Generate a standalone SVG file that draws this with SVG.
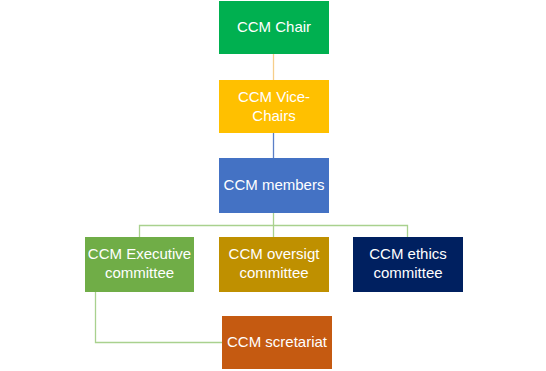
<svg xmlns="http://www.w3.org/2000/svg" width="546" height="371" viewBox="0 0 546 371">
<style>
text{font-family:"Liberation Sans",Arial,sans-serif;font-size:15px;fill:#fff;text-anchor:middle}
.c{fill:none;stroke-width:1.3}
</style>
<rect width="546" height="371" fill="#fff"/>
<g id="connectors">
<line class="c" x1="273.5" y1="54" x2="273.5" y2="80" stroke="#F6CE8A"/>
<line class="c" x1="273.5" y1="133" x2="273.5" y2="158" stroke="#5B7FC7"/>
<path class="c" d="M273.5 213V237M273.5 225.5H139.5V237M273.5 225.5H407.5V237" stroke="#A9D18E"/>
<path class="c" d="M95.5 292V342.5H222" stroke="#A9D18E"/>
</g>
<g id="chair"><rect x="219" y="1" width="110" height="53" fill="#00B050"/><text x="274" y="32">CCM Chair</text></g>
<g id="vice"><rect x="219" y="80" width="110" height="53" fill="#FFC000"/><text x="274" y="102">CCM Vice-</text><text x="274" y="121">Chairs</text></g>
<g id="members"><rect x="219" y="158" width="110" height="55" fill="#4472C4"/><text x="274" y="190">CCM members</text></g>
<g id="executive"><rect x="85" y="237" width="109" height="55" fill="#70AD47"/><text x="139.5" y="259">CCM Executive</text><text x="139.5" y="278">committee</text></g>
<g id="oversight"><rect x="219" y="237" width="110" height="55" fill="#BF9000"/><text x="274" y="259">CCM oversigt</text><text x="274" y="278">committee</text></g>
<g id="ethics"><rect x="353" y="237" width="110" height="55" fill="#002060"/><text x="408" y="259">CCM ethics</text><text x="408" y="278">committee</text></g>
<g id="secretariat"><rect x="222" y="316" width="110" height="53" fill="#C55A11"/><text x="277" y="347">CCM scretariat</text></g>
</svg>
